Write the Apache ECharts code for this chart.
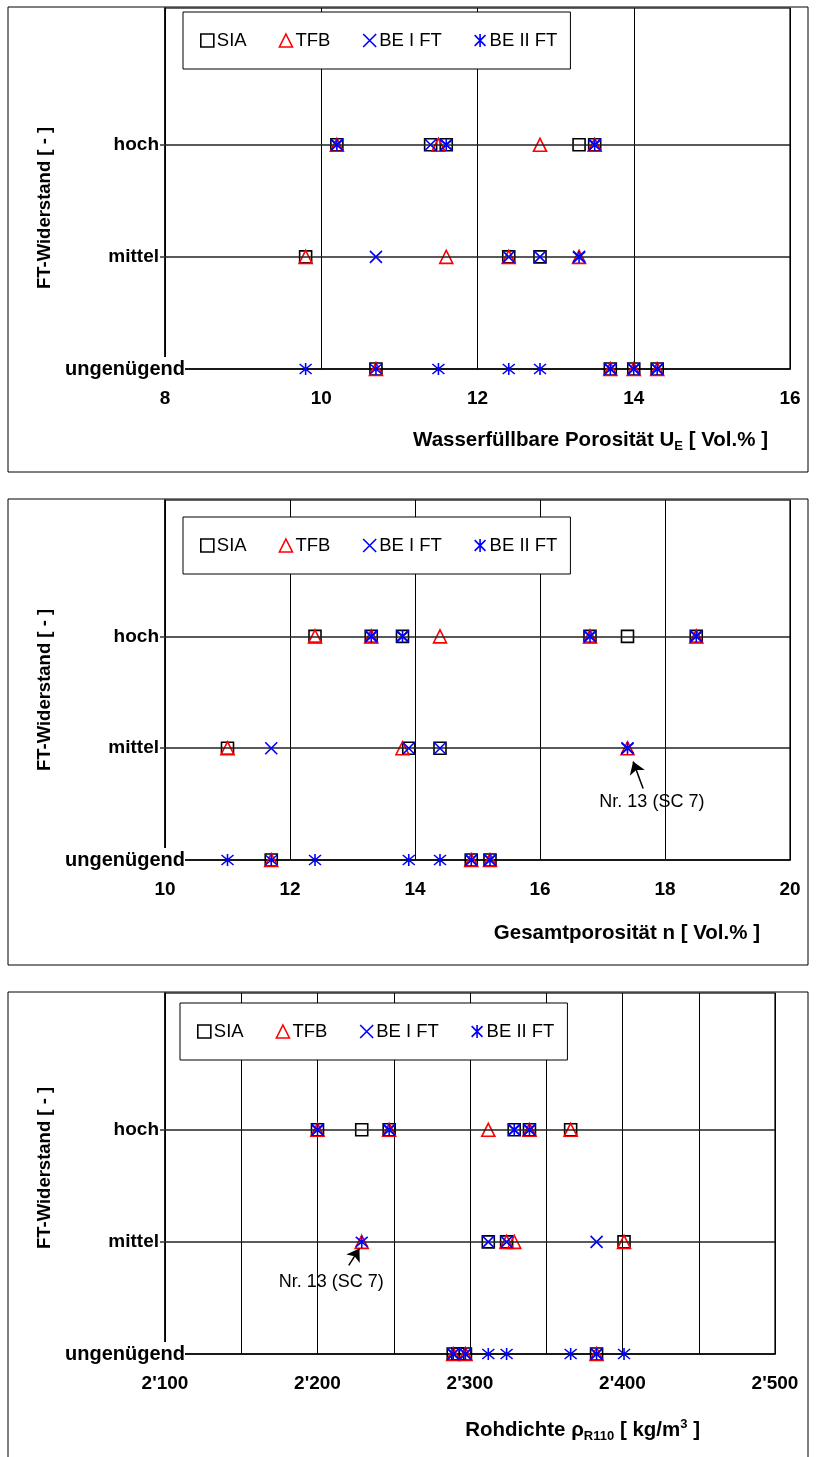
<!DOCTYPE html>
<html><head><meta charset="utf-8">
<script src="https://cdn.jsdelivr.net/npm/echarts@6/dist/echarts.min.js"></script>
<style>html,body{margin:0;padding:0;background:#fff}#c{width:816px;height:1457px}</style>
</head><body><div id="c"></div>
<script>
// ---- data ----
const levels = ['ungenügend', 'mittel', 'hoch'];
const seriesNames = ['SIA', 'TFB', 'BE I FT', 'BE II FT'];

// Panel 1: Wasserfüllbare Porosität U_E [Vol.%]  -> [x, level index]
const ue_SIA   = [[10.2,2],[11.4,2],[11.6,2],[13.3,2],[13.5,2],[9.8,1],[12.4,1],[12.8,1],[10.7,0],[13.7,0],[14.0,0],[14.3,0]];
const ue_TFB   = [[10.2,2],[11.5,2],[12.8,2],[13.5,2],[9.8,1],[11.6,1],[12.4,1],[13.3,1],[10.7,0],[13.7,0],[14.0,0],[14.3,0]];
const ue_BEI   = [[10.2,2],[11.4,2],[11.6,2],[13.5,2],[10.7,1],[12.4,1],[12.8,1],[13.3,1],[13.7,0],[14.0,0],[14.3,0]];
const ue_BEII  = [[10.2,2],[11.6,2],[13.5,2],[13.3,1],[9.8,0],[10.7,0],[11.5,0],[12.4,0],[12.8,0],[13.7,0],[14.0,0],[14.3,0]];

// Panel 2: Gesamtporosität n [Vol.%]
const n_SIA    = [[12.4,2],[13.3,2],[13.8,2],[16.8,2],[17.4,2],[18.5,2],[11.0,1],[13.9,1],[14.4,1],[11.7,0],[14.9,0],[15.2,0]];
const n_TFB    = [[12.4,2],[13.3,2],[14.4,2],[16.8,2],[18.5,2],[11.0,1],[13.8,1],[17.4,1],[11.7,0],[14.9,0],[15.2,0]];
const n_BEI    = [[13.3,2],[13.8,2],[16.8,2],[18.5,2],[11.7,1],[13.9,1],[14.4,1],[17.4,1],[14.9,0],[15.2,0]];
const n_BEII   = [[13.3,2],[13.8,2],[16.8,2],[18.5,2],[17.4,1],[11.0,0],[11.7,0],[12.4,0],[13.9,0],[14.4,0],[14.9,0],[15.2,0]];

// Panel 3: Rohdichte rho_R110 [kg/m3]
const rho_SIA  = [[2200,2],[2229,2],[2247,2],[2329,2],[2339,2],[2366,2],[2312,1],[2324,1],[2401,1],[2289,0],[2292,0],[2297,0],[2383,0]];
const rho_TFB  = [[2200,2],[2247,2],[2312,2],[2339,2],[2366,2],[2229,1],[2324,1],[2329,1],[2401,1],[2289,0],[2297,0],[2383,0]];
const rho_BEI  = [[2200,2],[2247,2],[2329,2],[2339,2],[2312,1],[2324,1],[2383,1],[2289,0],[2297,0],[2383,0]];
const rho_BEII = [[2200,2],[2247,2],[2329,2],[2339,2],[2229,1],[2289,0],[2297,0],[2312,0],[2324,0],[2366,0],[2383,0],[2401,0]];

// annotations: [tailX, tailY, tipX, tipY], label position [x, y]
const annot2Arrow = [17.65, 0.64, 17.49, 0.88];
const annot2Text  = [17.79, 0.52];
const annot3Arrow = [2220.5, 0.79, 2227.5, 0.94];
const annot3Text  = [2209, 0.64];
const annotLabel  = 'Nr. 13 (SC 7)';

// axis ranges / ticks
const ueAxis  = {min: 8, max: 16, interval: 2};
const nAxis   = {min: 10, max: 20, interval: 2};
const rhoAxis = {min: 2100, max: 2500, interval: 50, labelStep: 100};
const yMax = 3.22;

// ---- styling / layout ----
const FONT = 'Liberation Sans, Arial, sans-serif';
const TICK_FS = 19;
const SYM = {
  'SIA': {symbol: 'rect', size: 12, color: '#000'},
  'TFB': {symbol: 'triangle', size: 13, color: '#ff0000'},
  'BE I FT': {symbol: 'path://M0,0L10,10M10,0L0,10', size: 12, color: '#0000ff'},
  'BE II FT': {symbol: 'path://M0,0L10,10M10,0L0,10M5,-1L5,11', size: 12, color: '#0000ff'}
};
const panels = [
  {data: [ue_SIA, ue_TFB, ue_BEI, ue_BEII], axis: ueAxis, grid: {left: 165, top: 8, width: 625, height: 361}, frame: [8, 7, 800, 465], legend: [183, 12]},
  {data: [n_SIA, n_TFB, n_BEI, n_BEII], axis: nAxis, grid: {left: 165, top: 500, width: 625, height: 360}, frame: [8, 499, 800, 466], legend: [183, 517]},
  {data: [rho_SIA, rho_TFB, rho_BEI, rho_BEII], axis: rhoAxis, grid: {left: 165, top: 993, width: 610, height: 361}, frame: [8, 992, 800, 480], legend: [180, 1003]}
];

function fmtThousands(v) {
  const s = String(Math.round(v));
  return s.length > 3 ? s.slice(0, s.length - 3) + "'" + s.slice(-3) : s;
}

const grids = [], xAxes = [], yAxes = [], series = [], legends = [];
panels.forEach((p, gi) => {
  grids.push(Object.assign({show: true, borderColor: '#333', borderWidth: 1.5, backgroundColor: 'transparent'}, p.grid));
  const ax = p.axis;
  xAxes.push({
    type: 'value', gridIndex: gi, min: ax.min, max: ax.max, interval: ax.interval,
    axisLine: {show: true, onZero: false, lineStyle: {color: '#000', width: 1.5}},
    axisTick: {show: false},
    splitLine: {show: true, lineStyle: {color: '#000', width: 1}},
    axisLabel: {
      margin: 20, color: '#000', fontFamily: FONT, fontWeight: 'bold', fontSize: TICK_FS,
      formatter: v => (ax.labelStep && (v % ax.labelStep) !== 0) ? '' : (ax.labelStep ? fmtThousands(v) : String(v))
    }
  });
  yAxes.push({
    type: 'value', gridIndex: gi, min: 0, max: yMax,
    axisLine: {show: true, onZero: false, lineStyle: {color: '#000', width: 1.5}},
    axisTick: {show: true, inside: false, length: 5, customValues: [0, 1, 2], lineStyle: {color: '#333', width: 1.5}},
    splitLine: {show: false},
    axisLabel: {
      customValues: [0, 1, 2], margin: -20, align: 'right', color: '#000',
      formatter: v => v === 0 ? '{u|' + levels[0] + '}' : '{n|' + levels[Math.round(v)] + '}{s|}',
      rich: {
        u: {fontFamily: FONT, fontWeight: 'bold', fontSize: 20, color: '#000', backgroundColor: '#fff', padding: [2, 0, 2, 2]},
        n: {fontFamily: FONT, fontWeight: 'bold', fontSize: TICK_FS, color: '#000'},
        s: {width: 26}
      }
    }
  });
  p.data.forEach((d, si) => {
    const name = seriesNames[si];
    const st = SYM[name];
    const s = {
      name: name, type: 'scatter', xAxisIndex: gi, yAxisIndex: gi, data: d,
      symbol: st.symbol, symbolSize: st.size, z: 3 + si,
      itemStyle: {color: 'transparent', borderColor: st.color, borderWidth: 1.6, opacity: 1},
      emphasis: {disabled: true}
    };
    if (si === 0) {
      s.markLine = {
        silent: true, symbol: 'none', animation: false,
        lineStyle: {color: '#222', width: 1.5, type: 'solid'}, label: {show: false},
        data: [{yAxis: 1}, {yAxis: 2}]
      };
    }
    series.push(s);
  });
  legends.push({
    left: p.legend[0], top: p.legend[1],
    orient: 'horizontal', data: seriesNames.map(n => ({name: n, icon: SYM[n].symbol,
      itemStyle: {color: 'transparent', borderColor: SYM[n].color, borderWidth: 1.6}})),
    formatter: n => n === 'BE I FT' ? n + '{s|}' : n,
    backgroundColor: '#fff', borderColor: '#000', borderWidth: 1,
    padding: [19, 13, 19, 17], itemGap: 32, itemWidth: 13, itemHeight: 13,
    textStyle: {fontFamily: FONT, fontSize: 18.5, color: '#000', padding: [0, 0, 0, -2], rich: {s: {width: 6}}},
    selectedMode: false, z: 10
  });
});

// annotations (panel 2 and 3)
function annot(gi, arrow, textPos) {
  series.push({
    type: 'scatter', xAxisIndex: gi, yAxisIndex: gi, symbolSize: 1, silent: true, z: 8,
    itemStyle: {color: 'transparent', opacity: 1},
    data: [textPos],
    label: {show: true, position: 'inside', formatter: annotLabel, fontFamily: FONT, fontSize: 18, color: '#000', opacity: 1},
    markLine: {
      silent: true, animation: false, symbol: ['none', 'arrow'], symbolSize: 12,
      itemStyle: {color: '#000'},
      lineStyle: {color: '#000', width: 1.5, type: 'solid', opacity: 1}, label: {show: false},
      data: [[{coord: [arrow[0], arrow[1]]}, {coord: [arrow[2], arrow[3]]}]]
    }
  });
}
annot(1, annot2Arrow, annot2Text);
annot(2, annot3Arrow, annot3Text);

// frames and titles
const graphic = [];
panels.forEach(p => {
  graphic.push({type: 'rect', shape: {x: p.frame[0], y: p.frame[1], width: p.frame[2], height: p.frame[3]},
    style: {fill: 'none', stroke: '#000', lineWidth: 1}, silent: true, z: -1});
});
const TITLE_FONT = 'bold 20.5px ' + FONT;
const SUB_FONT = 'bold 13px ' + FONT;
const yTitleY = [208, 690, 1168];
yTitleY.forEach(y => graphic.push({type: 'text', x: 45, y: y, rotation: Math.PI / 2,
  style: {text: 'FT-Widerstand [ - ]', font: 'bold 18.5px ' + FONT, fill: '#000', align: 'center', verticalAlign: 'middle'}}));
graphic.push({type: 'text', x: 768, y: 440, style: {
  text: 'Wasserfüllbare Porosität U{sub|E} [ Vol.% ]', font: TITLE_FONT, fill: '#000', align: 'right', verticalAlign: 'middle',
  rich: {sub: {font: SUB_FONT, fill: '#000', padding: [12, 0, 0, 0]}}}});
graphic.push({type: 'text', x: 760, y: 933, style: {
  text: 'Gesamtporosität n [ Vol.% ]', font: TITLE_FONT, fill: '#000', align: 'right', verticalAlign: 'middle'}});
graphic.push({type: 'text', x: 700, y: 1430, style: {
  text: 'Rohdichte ρ{sub|R110} [ kg/m{sup|3} ]', font: TITLE_FONT, fill: '#000', align: 'right', verticalAlign: 'middle',
  rich: {sub: {font: SUB_FONT, fill: '#000', padding: [12, 0, 0, 0]}, sup: {font: SUB_FONT, fill: '#000', padding: [0, 0, 12, 0]}}}});

const chart = echarts.init(document.getElementById('c'), null, {renderer: 'canvas'});
chart.setOption({
  animation: false,
  backgroundColor: '#fff',
  grid: grids, xAxis: xAxes, yAxis: yAxes, series: series, legend: legends, graphic: graphic
});
</script></body></html>
